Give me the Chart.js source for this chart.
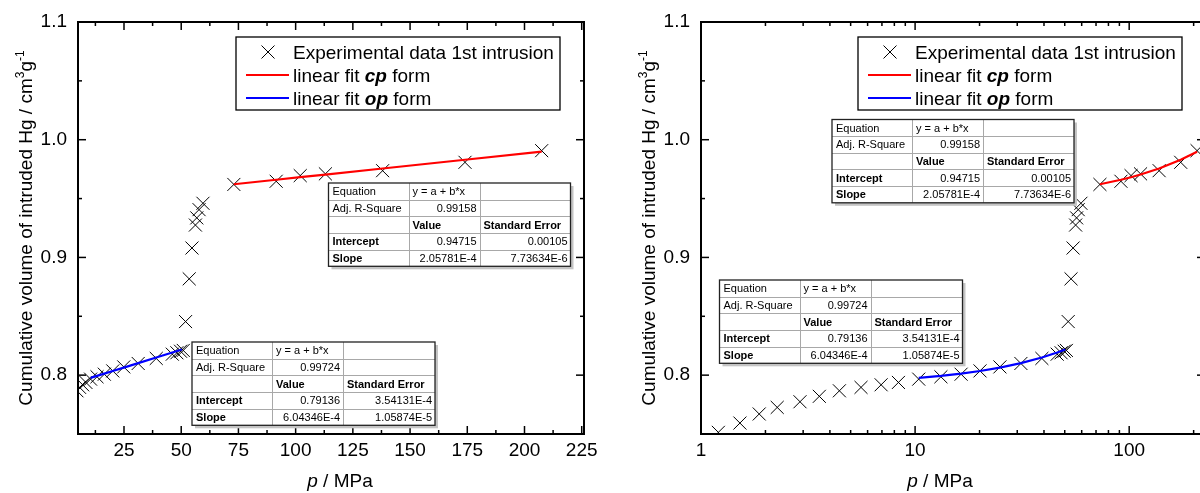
<!DOCTYPE html>
<html><head><meta charset="utf-8">
<script src="https://cdn.jsdelivr.net/npm/chart.js@4/dist/chart.umd.min.js"></script>
<style>
html,body{margin:0;padding:0;background:#fff;overflow:hidden;width:1200px;height:493px;}
#wrap{position:relative;width:1210px;height:493px;}
canvas{position:absolute;top:0;}
#c1{left:0;}
#c2{left:600px;}
</style></head><body>
<div id="wrap">
<canvas id="c1" width="600" height="493"></canvas>
<canvas id="c2" width="610" height="493"></canvas>
</div>
<script>
// ---- data ----
const pressure = [1.205, 1.52, 1.87, 2.27, 2.90, 3.57, 4.43, 5.59, 6.94, 8.36, 10.4, 13.2, 16.4, 20.1, 24.9, 31.2, 39.1, 46.1, 48.1, 49.7, 50.9, 51.9, 53.5, 54.7, 56.2, 56.8, 57.8, 59.5, 73.0, 91.5, 102, 113, 138, 174, 207.5];
const volume   = [0.7514, 0.7593, 0.767, 0.7726, 0.7774, 0.782, 0.7867, 0.7896, 0.7918, 0.7938, 0.7966, 0.7986, 0.8008, 0.8036, 0.807, 0.8099, 0.8142, 0.8178, 0.819, 0.8203, 0.821, 0.8455, 0.8818, 0.908, 0.9275, 0.9336, 0.9406, 0.946, 0.962, 0.9647, 0.9695, 0.971, 0.9737, 0.9808, 0.9907];
const cpFitX = [73, 91.5, 102, 113, 138, 174, 207.5];
const cpFitY = [0.96217, 0.96598, 0.96814, 0.97040, 0.97555, 0.98296, 0.98985];
const opFitX = [10.4, 13.2, 16.4, 20.1, 24.9, 31.2, 39.1, 46.1, 50.3];
const opFitY = [0.79765, 0.79934, 0.80127, 0.80351, 0.80641, 0.81022, 0.81499, 0.81922, 0.82176];
const yTicks = [0.8, 0.9, 1.0, 1.1];
const yMinorTicks = [0.85, 0.95, 1.05];
const linTicks = [25, 50, 75, 100, 125, 150, 175, 200, 225];
const linMinorTicks = [12.5, 37.5, 62.5, 87.5, 112.5, 137.5, 162.5, 187.5, 212.5];
const logTicks = [1, 10, 100];
const logMinorTicks = [2, 3, 4, 5, 6, 7, 8, 9, 20, 30, 40, 50, 60, 70, 80, 90, 200];
const seriesNames = ['Experimental data 1st intrusion', ['linear fit ', 'cp', ' form'], ['linear fit ', 'op', ' form']];
const statRowLabels = ['Equation', 'Adj. R-Square', '', 'Intercept', 'Slope'];
const statHeaders = ['y = a + b*x', 'Value', 'Standard Error'];
const cpStats = ['0.99158', '0.94715', '0.00105', '2.05781E-4', '7.73634E-6'];
const opStats = ['0.99724', '0.79136', '3.54131E-4', '6.04346E-4', '1.05874E-5'];
const yTitle = ['Cumulative volume of intruded Hg / cm', '3', 'g', '-1'];
const xTitle = ['p', ' / MPa'];

const FONT = "'Liberation Sans', Arial, sans-serif";

function drawTable(ctx, x, y, cw, rh, stats) {
  const w = cw[0] + cw[1] + cw[2], h = rh * 5;
  ctx.fillStyle = '#c4c4c4';
  ctx.fillRect(x + 3, y + 3, w, h);
  ctx.fillStyle = '#fff';
  ctx.fillRect(x, y, w, h);
  ctx.strokeStyle = '#a8a8a8'; ctx.lineWidth = 1;
  for (let r = 1; r < 5; r++) { ctx.beginPath(); ctx.moveTo(x, Math.round(y + r * rh) + 0.5); ctx.lineTo(x + w, Math.round(y + r * rh) + 0.5); ctx.stroke(); }
  let cx = x;
  for (let c = 0; c < 2; c++) { cx += cw[c]; ctx.beginPath(); ctx.moveTo(Math.round(cx) + 0.5, y); ctx.lineTo(Math.round(cx) + 0.5, y + h); ctx.stroke(); }
  ctx.strokeStyle = '#222'; ctx.lineWidth = 1.3;
  ctx.strokeRect(x, y, w, h);
  ctx.fillStyle = '#000';
  ctx.textBaseline = 'alphabetic';
  const reg = '11px ' + FONT, bold = 'bold 11px ' + FONT;
  const c1 = x, c2 = x + cw[0], c3 = x + cw[0] + cw[1];
  const put = (t, px, r, font, align) => { ctx.font = font; ctx.textAlign = align; ctx.fillText(t, px, y + r * rh + 12.3); };
  put(statRowLabels[0], c1 + 4, 0, reg, 'left');
  put(statRowLabels[1], c1 + 4, 1, reg, 'left');
  put(statRowLabels[3], c1 + 4, 3, bold, 'left');
  put(statRowLabels[4], c1 + 4, 4, bold, 'left');
  put(statHeaders[0], c2 + 4, 0, reg, 'left');
  put(stats[0], c3 - 3, 1, reg, 'right');
  put(statHeaders[1], c2 + 4, 2, bold, 'left');
  put(statHeaders[2], c3 + 4, 2, bold, 'left');
  put(stats[1], c3 - 3, 3, reg, 'right');
  put(stats[2], x + w - 3, 3, reg, 'right');
  put(stats[3], c3 - 3, 4, reg, 'right');
  put(stats[4], x + w - 3, 4, reg, 'right');
}

function drawCross(ctx, x, y, s) {
  ctx.beginPath();
  ctx.moveTo(x - s, y - s); ctx.lineTo(x + s, y + s);
  ctx.moveTo(x - s, y + s); ctx.lineTo(x + s, y - s);
  ctx.stroke();
}

function drawLegend(ctx, x, y) {
  const w = 324, h = 73;
  ctx.fillStyle = '#fff'; ctx.fillRect(x, y, w, h);
  ctx.strokeStyle = '#000'; ctx.lineWidth = 1.3; ctx.strokeRect(x, y, w, h);
  ctx.lineWidth = 1; drawCross(ctx, x + 32, y + 15, 6.5);
  ctx.lineWidth = 2;
  ctx.strokeStyle = '#ff0000'; ctx.beginPath(); ctx.moveTo(x + 10, y + 38); ctx.lineTo(x + 53, y + 38); ctx.stroke();
  ctx.strokeStyle = '#0000ff'; ctx.beginPath(); ctx.moveTo(x + 10, y + 61); ctx.lineTo(x + 53, y + 61); ctx.stroke();
  ctx.fillStyle = '#000'; ctx.textAlign = 'left'; ctx.textBaseline = 'alphabetic';
  ctx.font = '19px ' + FONT;
  ctx.fillText(seriesNames[0], x + 57, y + 21.5);
  [1, 2].forEach(i => {
    let px = x + 57; const by = y + 21.5 + 23.3 * i;
    const parts = seriesNames[i];
    const fonts = ['19px ' + FONT, 'italic bold 19px ' + FONT, '19px ' + FONT];
    parts.forEach((t, k) => { ctx.font = fonts[k]; ctx.fillText(t, px, by); px += ctx.measureText(t).width; });
  });
}

function drawTitles(ctx, a, xTitleCenter) {
  ctx.fillStyle = '#000'; ctx.textBaseline = 'alphabetic'; ctx.textAlign = 'left';
  const big = '19px ' + FONT, small = '12px ' + FONT;
  const parts = [[yTitle[0], big, 0], [yTitle[1], small, -8], [yTitle[2], big, 0], [yTitle[3], small, -8]];
  let total = 0;
  parts.forEach(p => { ctx.font = p[1]; total += ctx.measureText(p[0]).width; });
  ctx.save();
  ctx.translate(a.left - 46, (a.top + a.bottom) / 2);
  ctx.rotate(-Math.PI / 2);
  let px = -total / 2;
  parts.forEach(p => { ctx.font = p[1]; ctx.fillText(p[0], px, p[2]); px += ctx.measureText(p[0]).width; });
  ctx.restore();
  const xp = [[xTitle[0], 'italic 19px ' + FONT], [xTitle[1], '19px ' + FONT]];
  let tw = 0; xp.forEach(p => { ctx.font = p[1]; tw += ctx.measureText(p[0]).width; });
  let sx = xTitleCenter - tw / 2;
  xp.forEach(p => { ctx.font = p[1]; ctx.fillText(p[0], sx, 487); sx += ctx.measureText(p[0]).width; });
}

function overlay(cfg) {
  return {
    id: 'overlay',
    afterDraw(chart) {
      const ctx = chart.ctx, a = chart.chartArea, xs = chart.scales.x, ys = chart.scales.y;
      ctx.save();
      ctx.strokeStyle = '#000'; ctx.lineWidth = 1.5;
      const seg = (x1, y1, x2, y2) => { ctx.beginPath(); ctx.moveTo(x1, y1); ctx.lineTo(x2, y2); ctx.stroke(); };
      cfg.xMajor.forEach(v => { const x = xs.getPixelForValue(v); seg(x, a.bottom, x, a.bottom - 8); seg(x, a.top, x, a.top + 8); });
      cfg.xMinor.forEach(v => { const x = xs.getPixelForValue(v); seg(x, a.bottom, x, a.bottom - 4); seg(x, a.top, x, a.top + 4); });
      yTicks.forEach(v => { const y = ys.getPixelForValue(v); seg(a.left, y, a.left + 8, y); seg(a.right, y, a.right - 8, y); });
      yMinorTicks.forEach(v => { const y = ys.getPixelForValue(v); seg(a.left, y, a.left + 4, y); seg(a.right, y, a.right - 4, y); });
      ctx.lineWidth = 2;
      ctx.strokeRect(a.left, a.top, a.right - a.left, a.bottom - a.top);
      drawTable(ctx, cfg.cpTable[0], cfg.cpTable[1], [80, 71, 91], 16.66, cpStats);
      drawTable(ctx, cfg.opTable[0], cfg.opTable[1], [80, 71, 92], 16.66, opStats);
      drawLegend(ctx, cfg.legend[0], cfg.legend[1]);
      drawTitles(ctx, a, cfg.xTitleCenter);
      ctx.restore();
    }
  };
}

function makeChart(id, cfg) {
  const tickFont = { family: FONT, size: 19 };
  new Chart(document.getElementById(id), {
    type: 'scatter',
    data: {
      datasets: [
        { label: seriesNames[0], data: pressure.map((p, i) => ({ x: p, y: volume[i] })),
          pointStyle: 'crossRot', pointRadius: 9.2, pointHoverRadius: 9.2, pointBorderColor: '#000', pointBackgroundColor: '#000', pointBorderWidth: 1, showLine: false, order: 2 },
        { label: 'cp fit', data: cpFitX.map((p, i) => ({ x: p, y: cpFitY[i] })), showLine: true,
          borderColor: '#ff0000', borderWidth: 2.2, pointRadius: 0, tension: 0, order: 1 },
        { label: 'op fit', data: opFitX.map((p, i) => ({ x: p, y: opFitY[i] })), showLine: true,
          borderColor: '#0000ff', borderWidth: 2.2, pointRadius: 0, tension: 0, order: 1 }
      ]
    },
    options: {
      responsive: false, animation: false, devicePixelRatio: 1,
      layout: { autoPadding: false, padding: { top: 22, right: cfg.padRight, left: 0, bottom: 0 } },
      plugins: { legend: { display: false }, tooltip: { enabled: false } },
      scales: {
        x: {
          type: cfg.xType, min: cfg.xMin, max: cfg.xMax, position: 'bottom',
          afterBuildTicks: s => { s.ticks = cfg.xMajor.map(v => ({ value: v })); },
          afterFit: s => { s.height = 59; s.paddingLeft = 0; s.paddingRight = 0; },
          ticks: { callback: v => String(v), font: tickFont, color: '#000', padding: 5, maxRotation: 0, autoSkip: false },
          grid: { display: false, drawTicks: false }, border: { display: false }
        },
        y: {
          type: 'linear', min: 0.75, max: 1.1,
          afterBuildTicks: s => { s.ticks = yTicks.map(v => ({ value: v })); },
          afterFit: s => { s.width = cfg.yWidth; s.paddingTop = 0; s.paddingBottom = 0; },
          ticks: { callback: v => Number(v).toFixed(1), font: tickFont, color: '#000', padding: 11, autoSkip: false },
          grid: { display: false, drawTicks: false }, border: { display: false }
        }
      }
    },
    plugins: [overlay(cfg)]
  });
}

makeChart('c1', { xType: 'linear', xMin: 4.9, xMax: 226, xMajor: linTicks, xMinor: linMinorTicks,
  yWidth: 78, padRight: 16, cpTable: [328.5, 183], opTable: [192, 342], legend: [236, 37], xTitleCenter: 340 });
makeChart('c2', { xType: 'logarithmic', xMin: 1, xMax: 226, xMajor: logTicks, xMinor: logMinorTicks,
  yWidth: 101, padRight: 5, cpTable: [232, 119.5], opTable: [119.5, 280], legend: [258, 37], xTitleCenter: 340 });
</script>
</body></html>
